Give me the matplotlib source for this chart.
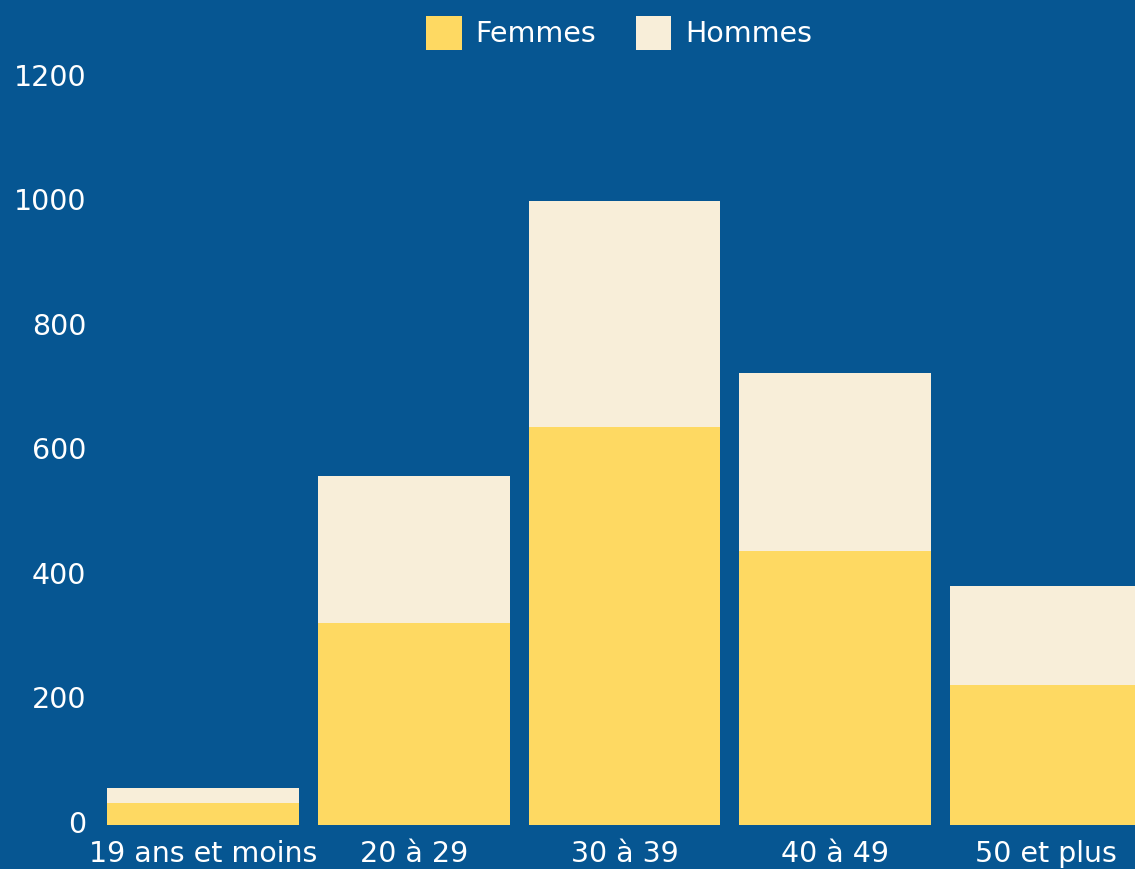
import matplotlib
matplotlib.use("Agg")
import matplotlib.pyplot as plt
import matplotlib.transforms as mtransforms
import numpy as np

categories = ["19 ans et moins", "20 à 29", "30 à 39", "40 à 49", "50 et plus"]
femmes = [35, 324, 639, 440, 225]
hommes = [25, 237, 364, 286, 159]
yticks = [0, 200, 400, 600, 800, 1000, 1200]

BG = "#065692"
YELLOW = "#fed962"
CREAM = "#f8eed9"
WHITE = "#ffffff"

plt.rcParams['font.family'] = ['DejaVu Sans']

fig = plt.figure(figsize=(11.35, 8.69), dpi=100)
fig.patch.set_facecolor(BG)
W, H = 1135, 869
left_px, right_px = 97.5, 1151.5
top_px, bottom_px = 78, 825
ax = fig.add_axes([left_px / W, (H - bottom_px) / H, (right_px - left_px) / W, (bottom_px - top_px) / H])
ax.set_facecolor(BG)

x = np.arange(len(categories))
ax.bar(x, femmes, width=0.91, color=YELLOW, label="Femmes", linewidth=0)
ax.bar(x, hommes, width=0.91, bottom=femmes, color=CREAM, label="Hommes", linewidth=0)

ax.set_xlim(-0.5, len(categories) - 0.5)
ax.set_ylim(0, 1200)
ax.set_yticks(yticks)
ax.set_yticklabels([str(v) for v in yticks])
ax.set_xticks(x)
ax.set_xticklabels(categories)
for s in ax.spines.values():
    s.set_visible(False)
ax.tick_params(axis='both', length=0, colors=WHITE, labelsize=20.5)
ax.tick_params(axis='y', pad=8)
ax.tick_params(axis='x', pad=11)

offset = mtransforms.ScaledTranslation(0, 3 / 100, fig.dpi_scale_trans)
for lbl in ax.get_yticklabels():
    lbl.set_transform(lbl.get_transform() + offset)

leg = fig.legend(loc='center', bbox_to_anchor=(619 / W, 1 - 33 / H), ncol=2, frameon=False,
                 fontsize=20.5, handlelength=1.25, handleheight=1.45, handletextpad=0.48,
                 columnspacing=1.4, labelcolor=WHITE)

fig.savefig("out.png", dpi=100, facecolor=BG)
